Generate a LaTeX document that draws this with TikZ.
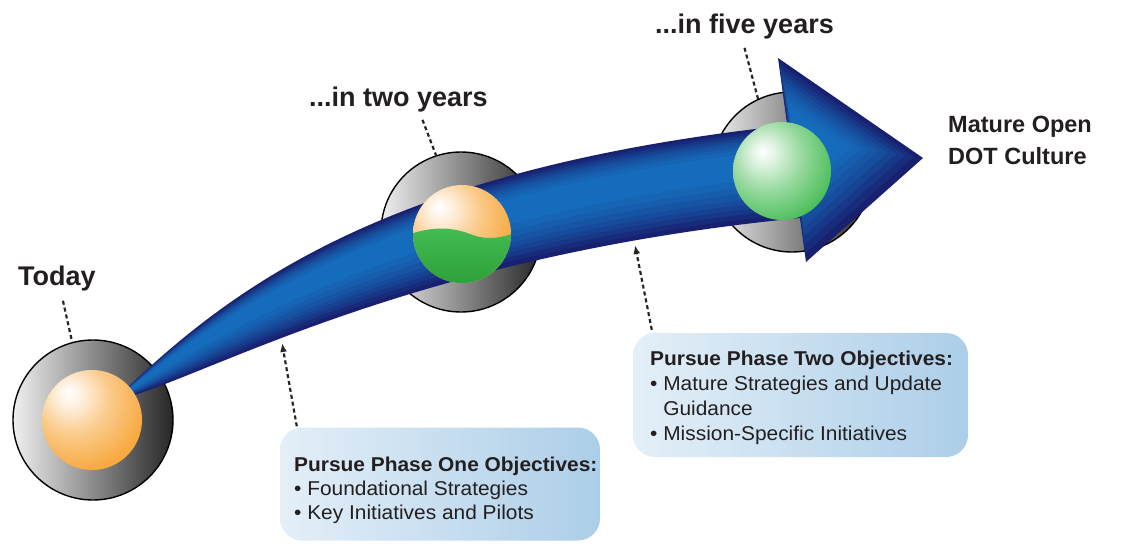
\documentclass[tikz,border=0pt]{standalone}
\usepackage{fontspec}
\setmainfont{Liberation Sans}
\newfontfamily\boxfont[FakeStretch=1.045]{Liberation Sans}
\usetikzlibrary{calc,arrows.meta}

\definecolor{orng}{RGB}{247,162,48}
\definecolor{grn}{RGB}{48,180,64}
\definecolor{navy}{RGB}{24,32,112}
\definecolor{bblue}{RGB}{22,108,188}
\definecolor{boxL}{RGB}{228,239,248}
\definecolor{boxR}{RGB}{172,206,232}
\definecolor{txt}{RGB}{35,31,32}

\pgfdeclareradialshading{orangeball}{\pgfpoint{-12bp}{14bp}}{color(0bp)=(white); color(6bp)=(white!85!orng); color(18bp)=(orng!55!white); color(34bp)=(orng!92!white); color(46bp)=(orng); color(90bp)=(orng)}
\pgfdeclareradialshading{greenball}{\pgfpoint{-10bp}{10bp}}{color(0bp)=(white); color(6bp)=(white!85!grn); color(18bp)=(grn!50!white); color(34bp)=(grn!88!white); color(46bp)=(grn); color(90bp)=(grn)}

\tikzset{
  disc/.style={circle, minimum size=160pt, inner sep=0pt, outer sep=0pt, draw=black, line width=1.4pt, left color=gray!12, right color=black!85},
  lbl/.style={font=\fontsize{27}{30}\selectfont\bfseries, text=txt, inner sep=0pt, anchor=base west},
  endlbl/.style={font=\fontsize{23.5}{28}\selectfont\bfseries, text=txt, inner sep=0pt, anchor=base west},
  objbox/.style={rounded corners=22pt, inner sep=0pt, left color=boxL, right color=boxR},
  head/.style={font=\boxfont\fontsize{20}{24}\selectfont\bfseries, text=txt, inner sep=0pt, anchor=base west},
  item/.style={font=\boxfont\fontsize{20}{24}\selectfont, text=txt, inner sep=0pt, anchor=base west},
  dashline/.style={line width=2.2pt, draw=black!85, dash pattern=on 4pt off 3pt},
  dasharrow/.style={dashline, -{Latex[length=9pt,width=7pt]}}
}

\begin{document}
\begin{tikzpicture}[x=1pt,y=-1pt]
\useasboundingbox (0,0) rectangle (1122,546);

% outer gray discs
\node[disc] (disc1) at (93,420) {};
\node[disc] (disc2) at (461,232) {};
\node[disc] (disc3) at (792,172) {};

% band: upper and lower Bezier edges (control points)
\coordinate (u0) at (125,390); \coordinate (u1) at (240,280);
\coordinate (u2) at (400,165); \coordinate (u3) at (800,124);
\coordinate (l0) at (125,398); \coordinate (l1) at (220,370);
\coordinate (l2) at (420,255); \coordinate (l3) at (800,218);
% layered band (dark edges, bright centre)
\foreach \f/\c in {0/navy, 0.04/navy!85!bblue, 0.08/navy!70!bblue, 0.12/navy!56!bblue, 0.16/navy!43!bblue, 0.20/navy!31!bblue, 0.25/navy!20!bblue, 0.30/navy!10!bblue, 0.36/bblue}{
  \pgfmathsetmacro{\fa}{0.7*\f}
  \pgfmathsetmacro{\fb}{1.3*\f}
  \foreach \i in {0,...,3}{
    \coordinate (a\i) at ($(u\i)!\fa!(l\i)$);
    \coordinate (b\i) at ($(l\i)!\fb!(u\i)$);
  }
  \fill[\c] (a0) .. controls (a1) and (a2) .. (a3) -- (b3) .. controls (b2) and (b1) .. (b0) -- cycle;
}

% arrow head (layered: bright near back edge, dark at tip and corners)
\coordinate (h1) at (778,58);
\coordinate (h2) at (923,158);
\coordinate (h3) at (806,262);
\coordinate (hc) at (796,138);
\foreach \s/\c in {1/navy, 0.93/navy!84!bblue, 0.86/navy!68!bblue, 0.79/navy!54!bblue, 0.72/navy!41!bblue, 0.65/navy!30!bblue, 0.58/navy!20!bblue, 0.51/navy!11!bblue, 0.44/navy!4!bblue, 0.37/bblue}{
  \fill[\c] ($(hc)!\s!(h1)$) -- ($(hc)!\s!(h2)$) -- ($(hc)!\s!(h3)$) -- cycle;
}

% spheres
\shade[shading=orangeball] (disc1.center) ++(-1,0) circle[radius=50pt];
\begin{scope}
  \clip (disc2.center) ++(1,2) circle[radius=49pt];
  \shade[shading=orangeball] (disc2.center) ++(1,2) circle[radius=49pt];
  \shade[top color=grn!90!white, bottom color=grn!88!black]
    (405,236) .. controls (428,227) and (450,226) .. (470,234)
    .. controls (488,241) and (502,238) .. (520,231) -- (520,290) -- (405,290) -- cycle;
\end{scope}
\shade[shading=greenball] (disc3.center) ++(-10,-1) circle[radius=49pt];

% labels
\node[lbl] (today) at (18,285) {Today};
\node[lbl] (two) at (309,106) {...in two years};
\node[lbl] (five) at (655,33) {...in five years};
\node[endlbl] (mature1) at (948,132) {Mature Open};
\node[endlbl] (mature2) at (948,164) {DOT Culture};

\draw[dashline] ([xshift=6pt,yshift=-10pt]today.south) -- (disc1.105);
\draw[dashline] ([xshift=24pt,yshift=-8pt]two.south) -- (disc2.108);
\draw[dashline] ([xshift=0pt,yshift=-9pt]five.south) -- (disc3.115);

% objective boxes
\node[objbox, minimum width=320pt, minimum height=113pt] (box1) at (440,484) {};
\node[objbox, minimum width=335pt, minimum height=124pt] (box2) at (800.5,395) {};

\node[head] (h1t) at (294,471) {Pursue Phase One Objectives:};
\node[item] (h1a) at (294,495) {\textbullet\ Foundational Strategies};
\node[item] (h1b) at (294,519) {\textbullet\ Key Initiatives and Pilots};

\node[head] (h2t) at (650,365) {Pursue Phase Two Objectives:};
\node[item] (h2a) at (650,390) {\textbullet\ Mature Strategies and Update};
\node[item] (h2b) at (650,415) {\phantom{\textbullet\ }Guidance};
\node[item] (h2c) at (650,440) {\textbullet\ Mission-Specific Initiatives};

% dashed pointers
\coordinate (p1) at (282,343);
\coordinate (p2) at (635,245);
\draw[dasharrow] ([xshift=17pt,yshift=1pt]box1.north west) -- (p1);
\draw[dasharrow] ([xshift=19pt,yshift=3pt]box2.north west) -- (p2);
\end{tikzpicture}
\end{document}
